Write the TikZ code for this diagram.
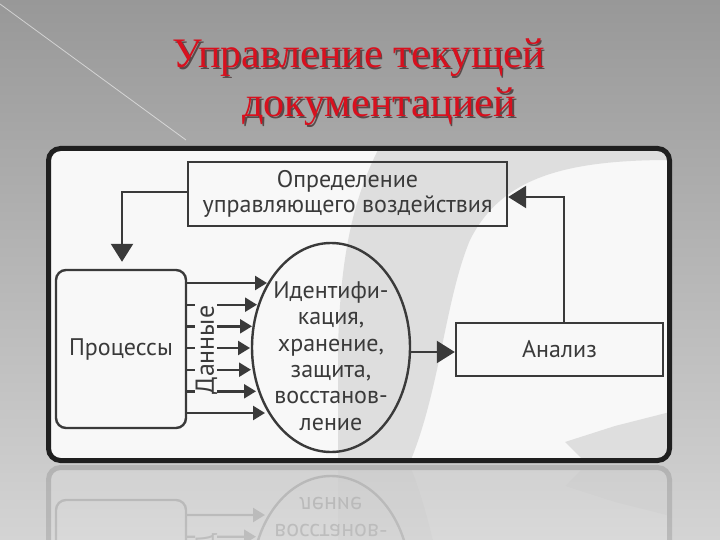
\documentclass[tikz,border=0pt]{standalone}
\usepackage{fontspec}
\usetikzlibrary{arrows.meta}
\newfontfamily\dgfont{PT Sans}
\newfontfamily\ttlfont{Liberation Serif}
\definecolor{ink}{HTML}{3A3A3A}
\definecolor{ttlred}{HTML}{D8101E}
\definecolor{ttlshadow}{HTML}{3C2A2A}
\definecolor{bgtop}{HTML}{989898}
\definecolor{bgbot}{HTML}{D4D4D4}
\definecolor{wmark}{HTML}{DEDEDE}
\definecolor{paper}{HTML}{F8F8F8}
\newcommand\dgtext{\dgfont\fontsize{24}{25}\selectfont}
\newcommand\ttltext{\ttlfont\fontsize{42}{48}\selectfont}
\newcommand\shadowed[1]{\rlap{\hspace{1.8pt}\raisebox{-1.8pt}{\textcolor{ttlshadow!85}{#1}}}\textcolor{ttlred}{#1}}
\tikzset{
  ln/.style={draw=ink, line width=2.4pt},
  boxst/.style={ln, rectangle, align=center, font=\dgtext, text=ink, inner sep=0pt},
  lbl/.style={align=center, font=\dgtext, text=ink, inner sep=0pt},
  bigarr/.style={ln, -{Triangle[length=18pt,width=22pt]}},
  smallarr/.style={ln, -{Triangle[length=12pt,width=14pt]}},
  ttl/.style={anchor=base west, font=\ttltext, inner sep=0pt},
}
\newcommand\mydiagram{%
  % frame and scanned background
  \fill[paper, rounded corners=12pt] (48.5,148.5) rectangle (669.5,460.5);
  \begin{scope}
    \clip[rounded corners=12pt] (48.5,148.5) rectangle (669.5,460.5);
    \fill[wmark] (380,146) .. controls (352,200) and (340,260) .. (338,350) -- (338,462) -- (410,462)
      .. controls (440,390) and (445,300) .. (470,240)
      .. controls (500,180) and (560,160) .. (670,160) -- (670,146) -- cycle;
    \fill[wmark] (585,462) -- (565,442) -- (615,426) -- (670,412) -- (670,462) -- cycle;
  \end{scope}
  \draw[line width=5pt, draw=black!88, rounded corners=12pt] (48.5,148.5) rectangle (669.5,460.5);
  % boxes
  \node[boxst, minimum width=319pt, minimum height=64pt] (ctrl) at (347.5,194)
     {Определение\\управляющего воздействия};
  \node[boxst, rounded corners=10pt, minimum width=130pt, minimum height=158pt] (proc) at (121,349) {Процессы};
  \node[boxst, minimum width=207pt, minimum height=53pt] (anal) at (559.5,349.5) {Анализ};
  % ellipse
  \coordinate (ellC) at (331,347.5);
  \draw[ln] (ellC) ellipse [x radius=79pt, y radius=104.5pt];
  \node[lbl, font=\dgfont\fontsize{24}{26.4}\selectfont] (ident) at (331,356)
     {Идентифи-\\кация,\\хранение,\\защита,\\восстанов-\\ление};
  \coordinate (ellE) at (410,352);
  % data arrows
  \coordinate (d0) at (267,283);
  \coordinate (d1) at (257,304.7);
  \coordinate (d2) at (252,326.3);
  \coordinate (d3) at (250,348);
  \coordinate (d4) at (251,369.7);
  \coordinate (d5) at (256,391.3);
  \coordinate (d6) at (265,413);
  \draw[smallarr] (proc.east |- d0) -- (d0);
  \draw[smallarr] (proc.east |- d6) -- (d6);
  \foreach \k in {1,...,5}{
    \coordinate (s\k) at (217,0 |- d\k);
    \draw[smallarr] (s\k) -- (d\k);
    \draw[ln] (proc.east |- d\k) -- ++(8,0);
  }
  \node[lbl, rotate=90, font=\dgfont\fontsize{26}{26}\selectfont] (dann) at (206.5,350) {Данные};
  % other connectors
  \draw[bigarr] (ellE) -- (ellE -| anal.west);
  \coordinate (rc) at (564,197);
  \draw[bigarr] (rc |- anal.north) -- (rc) -- (rc -| ctrl.east);
  \coordinate (lc) at (122,192);
  \draw[bigarr, shorten >=7pt] (lc -| ctrl.west) -- (lc) -- (lc |- proc.north);
}
\begin{document}
\begin{tikzpicture}[x=1pt, y=-1pt]
  \useasboundingbox (0,0) rectangle (720,540);
  \shade[top color=bgtop, bottom color=bgbot] (0,0) rectangle (720,540);
  \draw[white, opacity=0.55, line width=0.8pt] (0,4) -- (186,140);
  % title
  \node[ttl] (t1) at (172,68) {\shadowed{Управление текущей}};
  \node[ttl] (t2) at (242,117) {\shadowed{документацией}};
  % diagram
  \mydiagram
  % reflection
  \begin{scope}
    \clip (0,464) rectangle (720,540);
    \begin{scope}[transparency group, opacity=0.14]
      \begin{scope}[cm={1,0,0,-1,(0pt,-928pt)}, transform shape, name prefix=r-]
        \mydiagram
      \end{scope}
    \end{scope}
  \end{scope}
\end{tikzpicture}
\end{document}
